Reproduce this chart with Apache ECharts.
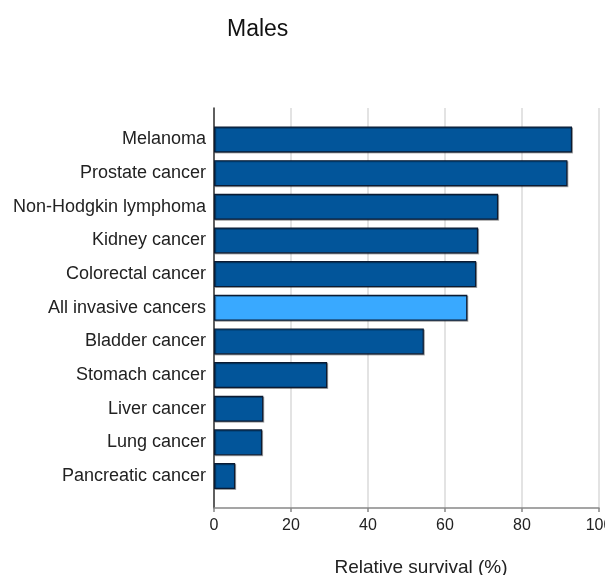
<!DOCTYPE html>
<html>
<head>
<meta charset="utf-8">
<script src="https://cdn.jsdelivr.net/npm/echarts@6/dist/echarts.min.js"></script>
<style>
  html, body { margin: 0; padding: 0; background: #fff; }
  #chart { width: 605px; height: 575px; }
</style>
</head>
<body>
<div id="chart"></div>
<script>
const categories = [
  'Melanoma', 'Prostate cancer', 'Non-Hodgkin lymphoma', 'Kidney cancer',
  'Colorectal cancer', 'All invasive cancers', 'Bladder cancer', 'Stomach cancer',
  'Liver cancer', 'Lung cancer', 'Pancreatic cancer'
]
const survival = [93.0, 91.8, 73.8, 68.6, 68.1, 65.8, 54.5, 29.4, 12.8, 12.5, 5.5]
const highlight = 'All invasive cancers'
const xTicks = [0, 20, 40, 60, 80, 100]

const dark = '#02559a'
const light = '#39a9ff'
const font = 'Liberation Sans, Arial, sans-serif'

const chart = echarts.init(document.getElementById('chart'))

const option = {
  backgroundColor: '#fff',
  animation: false,
  title: [
    {
      text: 'Males',
      left: 222,
      top: 13,
      textStyle: { fontFamily: font, fontSize: 23, fontWeight: 'normal', color: '#111' }
    },
    {
      text: 'Relative survival (%)',
      left: 416,
      textAlign: 'center',
      top: 553,
      textStyle: { fontFamily: font, fontSize: 19, fontWeight: 'normal', color: '#222' }
    }
  ],
  grid: [
    // frame: x axis, grid lines, y axis line
    { left: 214, right: 6, top: 108, bottom: 67, outerBoundsMode: 'none', containLabel: false },
    // bars
    { left: 214, right: 6, top: 122.7, bottom: 82.2, outerBoundsMode: 'none', containLabel: false }
  ],
  xAxis: [
    {
      gridIndex: 0,
      type: 'value',
      min: xTicks[0],
      max: xTicks[xTicks.length - 1],
      interval: 20,
      axisLine: { onZero: false, lineStyle: { color: '#888', width: 1.5 } },
      axisTick: { show: true, length: 4, lineStyle: { color: '#888', width: 1.5 } },
      axisLabel: { fontFamily: font, fontSize: 16, color: '#222', margin: 10, hideOverlap: false },
      splitLine: { show: true, lineStyle: { color: '#e3e3e3', width: 2 } }
    },
    {
      gridIndex: 1,
      type: 'value',
      min: 0,
      max: 100,
      show: false
    }
  ],
  yAxis: [
    {
      gridIndex: 0,
      type: 'value',
      min: 0,
      max: 1,
      axisLine: { show: true, onZero: false, lineStyle: { color: '#333', width: 1.5 } },
      axisTick: { show: false },
      axisLabel: { show: false },
      splitLine: { show: false }
    },
    {
      gridIndex: 1,
      type: 'category',
      inverse: true,
      data: categories,
      axisLine: { show: false },
      axisTick: { show: false },
      axisLabel: { fontFamily: font, fontSize: 18, color: '#222', margin: 8 }
    }
  ],
  series: [
    {
      type: 'bar',
      xAxisIndex: 1,
      yAxisIndex: 1,
      barWidth: 26,
      data: survival.map((v, i) => ({
        value: v,
        itemStyle: { color: categories[i] === highlight ? light : dark }
      })),
      itemStyle: {
        borderColor: '#0b1b33',
        borderWidth: 1.2,
        shadowColor: 'rgba(0,0,0,0.3)',
        shadowOffsetX: 1,
        shadowOffsetY: 1,
        shadowBlur: 0
      }
    }
  ]
}

chart.setOption(option)
</script>
</body>
</html>
